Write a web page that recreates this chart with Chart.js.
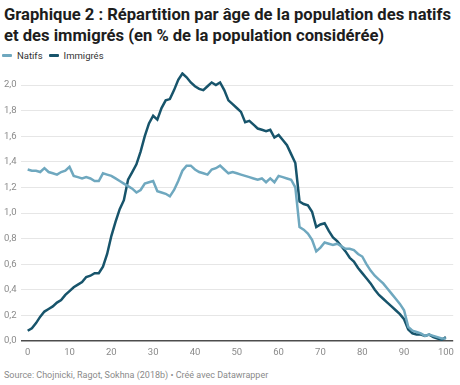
<!DOCTYPE html>
<html lang="fr">
<head>
<meta charset="utf-8">
<script src="https://cdn.jsdelivr.net/npm/chart.js@4"></script>
<style>
  html, body { margin: 0; padding: 0; background: #fff; }
  body { width: 460px; height: 385px; position: relative; overflow: hidden; font-family: Roboto, "Noto Sans", sans-serif; }
  .titre { position: absolute; left: 4px; top: 4px; width: 452px; font-size: 16.6px; font-weight: 700; line-height: 21px; color: #1d1d1d; }
  .legende { position: absolute; left: 2px; top: 50px; font-size: 9.5px; color: #333; }
  .legende span { display: inline-block; margin-right: 6px; }
  .legende i { display: inline-block; width: 10px; height: 3px; border-radius: 1px; vertical-align: middle; margin-right: 5px; position: relative; top: -1px; }
  .zone { position: absolute; left: 0; top: 72px; width: 460px; height: 290px; }
  .source { position: absolute; left: 4px; top: 370px; font-size: 9px; color: #8a8a8a; }
</style>
</head>
<body>
<div class="titre">Graphique 2 : Répartition par âge de la population des natifs<br>et des immigrés (en % de la population considérée)</div>
<div class="legende">
  <span><i style="background:#6fa8bf"></i>Natifs</span><span><i style="background:#17546b"></i>Immigrés</span>
</div>
<div class="zone"><canvas id="ageChart"></canvas></div>
<div class="source">Source: Chojnicki, Ragot, Sokhna (2018b) • Créé avec Datawrapper</div>

<script>
// âges 0 à 100
var ages = [];
for (var a = 0; a <= 100; a++) ages.push(a);

var natifs = [
  1.34, 1.33, 1.33, 1.32, 1.35, 1.32, 1.31, 1.30, 1.32, 1.33,   // 0-9
  1.36, 1.29, 1.28, 1.27, 1.28, 1.27, 1.25, 1.25, 1.31, 1.30,   // 10-19
  1.29, 1.27, 1.25, 1.23, 1.21, 1.19, 1.16, 1.18, 1.23, 1.24,   // 20-29
  1.25, 1.17, 1.16, 1.15, 1.13, 1.18, 1.25, 1.33, 1.37, 1.37,   // 30-39
  1.34, 1.32, 1.31, 1.30, 1.34, 1.35, 1.37, 1.34, 1.31, 1.32,   // 40-49
  1.31, 1.30, 1.29, 1.28, 1.27, 1.26, 1.27, 1.24, 1.27, 1.24,   // 50-59
  1.29, 1.28, 1.27, 1.26, 1.20, 0.89, 0.87, 0.84, 0.79, 0.70,   // 60-69
  0.73, 0.77, 0.76, 0.75, 0.76, 0.74, 0.72, 0.72, 0.71, 0.68,   // 70-79
  0.66, 0.60, 0.55, 0.51, 0.48, 0.45, 0.41, 0.37, 0.33, 0.29,   // 80-89
  0.24, 0.11, 0.08, 0.07, 0.06, 0.04, 0.05, 0.04, 0.03, 0.02,   // 90-99
  0.02
];

var immigres = [
  0.08, 0.10, 0.14, 0.19, 0.23, 0.25, 0.27, 0.30, 0.32, 0.36,   // 0-9
  0.39, 0.42, 0.44, 0.46, 0.50, 0.51, 0.53, 0.53, 0.58, 0.68,   // 10-19
  0.82, 0.93, 1.03, 1.10, 1.26, 1.32, 1.38, 1.48, 1.60, 1.70,   // 20-29
  1.76, 1.73, 1.82, 1.88, 1.89, 1.96, 2.04, 2.09, 2.06, 2.02,   // 30-39
  1.99, 1.97, 1.96, 1.99, 2.02, 2.00, 2.02, 1.96, 1.88, 1.85,   // 40-49
  1.82, 1.79, 1.71, 1.72, 1.69, 1.66, 1.65, 1.64, 1.65, 1.59,   // 50-59
  1.61, 1.57, 1.53, 1.46, 1.39, 1.09, 1.07, 1.06, 1.01, 0.89,   // 60-69
  0.91, 0.92, 0.86, 0.81, 0.78, 0.74, 0.70, 0.65, 0.62, 0.57,   // 70-79
  0.53, 0.49, 0.45, 0.40, 0.36, 0.33, 0.30, 0.27, 0.24, 0.21,   // 80-89
  0.17, 0.09, 0.06, 0.05, 0.05, 0.04, 0.05, 0.03, 0.02, 0.01,   // 90-99
  0.03
];

var xTicks = [0, 10, 20, 30, 40, 50, 60, 70, 80, 90, 100];
var yTicks = [0, 0.2, 0.4, 0.6, 0.8, 1.0, 1.2, 1.4, 1.6, 1.8, 2.0];

function pts(vals) {
  return ages.map(function (age, i) { return { x: age, y: vals[i] }; });
}

var ctx = document.getElementById('ageChart').getContext('2d');
var chart = new Chart(ctx, {
  type: 'line',
  data: {
    datasets: [{
      label: 'Natifs',
      data: pts(natifs),
      borderColor: '#6fa8bf',
      borderWidth: 2.5,
      pointRadius: 0,
      tension: 0,
      clip: false
    }, {
      label: 'Immigrés',
      data: pts(immigres),
      borderColor: '#17546b',
      borderWidth: 2.5,
      pointRadius: 0,
      tension: 0,
      clip: false
    }]
  },
  options: {
    responsive: true,
    maintainAspectRatio: false,
    animation: false,
    layout: { padding: { top: 13, left: 4, right: 6, bottom: 0 } },
    plugins: {
      legend: { display: false },
      tooltip: { enabled: false }
    },
    scales: {
      x: {
        type: 'linear',
        min: -1.6,
        max: 101.75,
        afterBuildTicks: function (axis) {
          axis.ticks = xTicks.map(function (v) { return { value: v }; });
        },
        afterFit: function (axis) { axis.height = 21; },
        grid: { display: false, drawTicks: false },
        border: { display: false },
        ticks: {
          padding: 6,
          color: '#8a8a8a',
          font: { family: 'Roboto', size: 9.5 },
          maxRotation: 0,
          callback: function (v) { return v; }
        }
      },
      y: {
        min: 0,
        max: 2.0,
        afterBuildTicks: function (axis) {
          axis.ticks = yTicks.map(function (v) { return { value: v }; });
        },
        afterFit: function (axis) { axis.width = 17; },
        grid: {
          drawTicks: false,
          color: function (c) { return c.tick && c.tick.value === 0 ? '#4d4d4d' : '#e6e6e6'; },
          lineWidth: function (c) { return c.tick && c.tick.value === 0 ? 1.5 : 1; }
        },
        border: { display: false },
        ticks: {
          crossAlign: 'far',
          padding: 0,
          color: '#8a8a8a',
          font: { family: 'Roboto', size: 9.5 },
          callback: function (v) { return v.toFixed(1).replace('.', ','); }
        }
      }
    }
  }
});
</script>
</body>
</html>
